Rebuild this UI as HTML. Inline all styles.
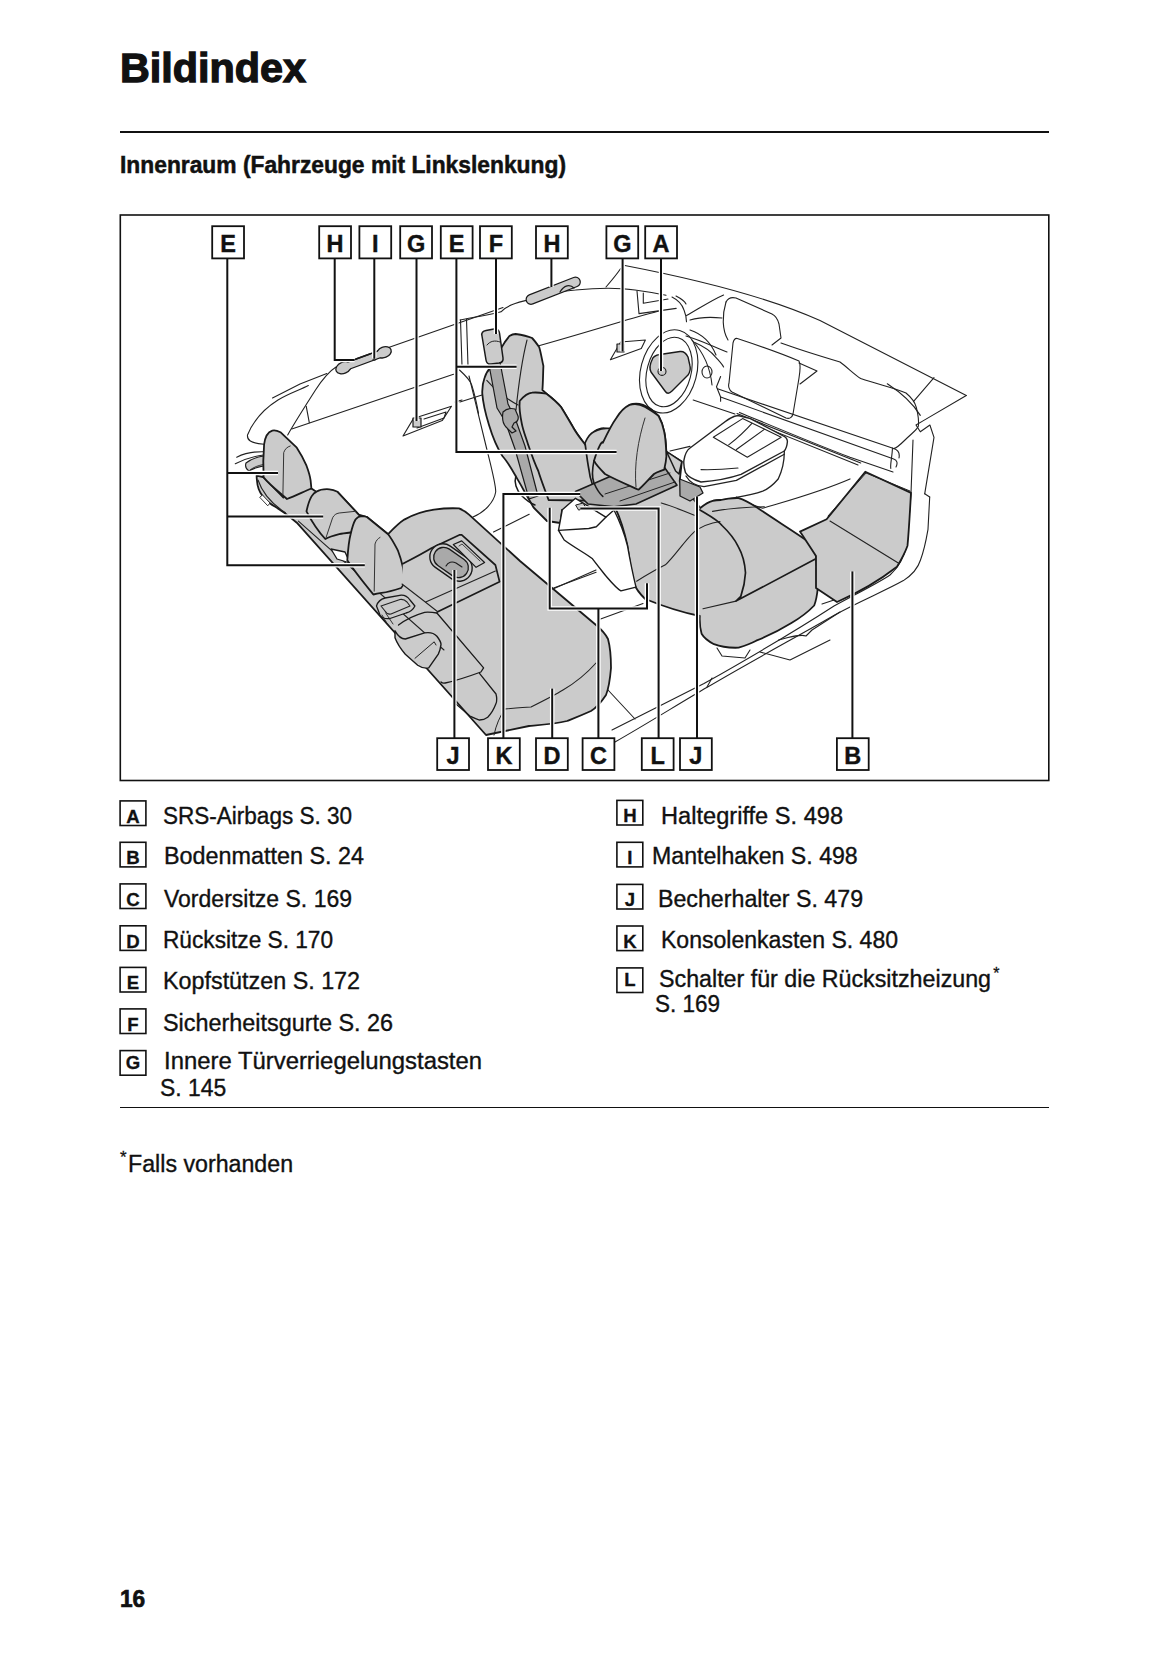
<!DOCTYPE html>
<html><head><meta charset="utf-8">
<style>
html,body{margin:0;padding:0;background:#fff;}
body{width:1165px;height:1653px;position:relative;overflow:hidden;font-family:"Liberation Sans",sans-serif;color:#111;}
.abs{position:absolute;white-space:nowrap;}
.t{position:absolute;white-space:nowrap;line-height:1;transform-origin:0 0;}
.box{position:absolute;border:1.5px solid #111;}
.box span{position:absolute;left:0;right:0;text-align:center;font-weight:bold;line-height:1;}
svg{position:absolute;left:0;top:0;}
</style></head><body>
<div class="t" style="left:120.00px;top:47.17px;font-size:41.5px;font-weight:bold;transform:scaleX(0.9959);-webkit-text-stroke:1.30px #111;">Bildindex</div>
<div class="abs" style="left:120px;top:130.8px;width:929px;height:1.8px;background:#111;"></div>
<div class="t" style="left:120.00px;top:154.43px;font-size:23.0px;font-weight:bold;transform:scaleX(0.9915);-webkit-text-stroke:0.50px #111;">Innenraum (Fahrzeuge mit Linkslenkung)</div>
<div class="t" style="left:163.00px;top:804.73px;font-size:23.0px;transform:scaleX(0.9793);-webkit-text-stroke:0.35px #111;">SRS-Airbags S. 30</div>
<div class="t" style="left:164.00px;top:845.23px;font-size:23.0px;transform:scaleX(1.0158);-webkit-text-stroke:0.35px #111;">Bodenmatten S. 24</div>
<div class="t" style="left:164.00px;top:887.63px;font-size:23.0px;transform:scaleX(1.0004);-webkit-text-stroke:0.35px #111;">Vordersitze S. 169</div>
<div class="t" style="left:163.00px;top:928.73px;font-size:23.0px;transform:scaleX(0.9854);-webkit-text-stroke:0.35px #111;">Rücksitze S. 170</div>
<div class="t" style="left:163.00px;top:970.23px;font-size:23.0px;transform:scaleX(1.0139);-webkit-text-stroke:0.35px #111;">Kopfstützen S. 172</div>
<div class="t" style="left:163.00px;top:1012.13px;font-size:23.0px;transform:scaleX(1.0165);-webkit-text-stroke:0.35px #111;">Sicherheitsgurte S. 26</div>
<div class="t" style="left:164.00px;top:1050.13px;font-size:23.0px;transform:scaleX(1.0379);-webkit-text-stroke:0.35px #111;">Innere Türverriegelungstasten</div>
<div class="t" style="left:160.00px;top:1076.73px;font-size:23.0px;transform:scaleX(0.9950);-webkit-text-stroke:0.35px #111;">S. 145</div>
<div class="t" style="left:661.00px;top:804.73px;font-size:23.0px;transform:scaleX(1.0268);-webkit-text-stroke:0.35px #111;">Haltegriffe S. 498</div>
<div class="t" style="left:652.30px;top:845.23px;font-size:23.0px;transform:scaleX(1.0056);-webkit-text-stroke:0.35px #111;">Mantelhaken S. 498</div>
<div class="t" style="left:658.00px;top:887.63px;font-size:23.0px;transform:scaleX(1.0086);-webkit-text-stroke:0.35px #111;">Becherhalter S. 479</div>
<div class="t" style="left:661.00px;top:928.53px;font-size:23.0px;transform:scaleX(1.0020);-webkit-text-stroke:0.35px #111;">Konsolenkasten S. 480</div>
<div class="t" style="left:659.00px;top:967.73px;font-size:23.0px;transform:scaleX(1.0106);-webkit-text-stroke:0.35px #111;">Schalter für die Rücksitzheizung</div>
<div class="abs" style="left:993.3px;top:966px;font-size:16px;line-height:16px;-webkit-text-stroke:0.3px #111;">*</div>
<div class="t" style="left:655.00px;top:993.43px;font-size:23.0px;transform:scaleX(0.9785);-webkit-text-stroke:0.35px #111;">S. 169</div>
<div class="abs" style="left:120px;top:1106.8px;width:929px;height:1.6px;background:#111;"></div>
<div class="abs" style="left:120px;top:1149px;font-size:17px;line-height:17px;-webkit-text-stroke:0.3px #111;">*</div>
<div class="t" style="left:128.00px;top:1153.03px;font-size:23.0px;transform:scaleX(1.0087);-webkit-text-stroke:0.35px #111;">Falls vorhanden</div>
<div class="t" style="left:120.00px;top:1587.81px;font-size:23.5px;font-weight:bold;transform:scaleX(0.9653);-webkit-text-stroke:0.70px #111;">16</div>
<svg width="1165" height="1653" viewBox="0 0 1165 1653">
<defs><clipPath id="frame"><rect x="121" y="216" width="927" height="564"/></clipPath></defs>
<g clip-path="url(#frame)" stroke-linejoin="round" stroke-linecap="round">
<!-- ===== body thin lines ===== -->
<g fill="none" stroke="#222" stroke-width="1.1">
 <path d="M272.5,398 L300,384 L326.8,373.6"/>
 <path d="M388.6,347.5 L503,307.6"/>
 <path d="M336,367 C328,372 322,380 315.5,390 C306,405 295,422 287.7,435"/>
 <path d="M306.2,406.2 L309.3,422.7"/>
 <path d="M308.3,385.6 C300,390 290,393 278,400 C262,410 252,424 247.5,435 C247,440 250,443 264,444.3"/>
 <path d="M291.8,428.9 L453.5,374.3"/>
 <path d="M454.6,402.1 L462,400"/>
 <path d="M403,436 L413.4,418.6 L451.5,406.2 L442.2,420.6 Z"/>
 <path d="M417,428 L444,418 L446,412 L424,419"/>
 <path d="M236.7,457.2 C245,453 255,451.5 263.5,451.7"/>
 <path d="M235.3,463.7 C245,459 255,456 263.5,455"/>
 <path d="M460,320 C480,316 495,314 501,311.8 C506,306 515,303 530,299.4 C545,295 560,291 575.4,290 C595,288 615,287 635,290 C650,292 660,294 666,295.3"/>
 <path d="M606,287 C612,280 617,274 620.7,268.5"/>
 <path d="M624.8,265.5 C700,280 770,298 820,320.6 L966.3,395.5"/>
 <path d="M966.3,395.5 L923,420.9 L916,425 L920.3,431.8 L929.9,425 L934,437.3 L924.7,493.8"/>
 <path d="M538,346 C570,337 600,328 620,322 C640,316 650,313 660,311"/>
 <path d="M460.5,320 L462,366"/>
 <path d="M466.5,319 L468,366"/>
 <path d="M459.5,370 C466,376 470,380 471.6,384.6 C475,395 477,405 478.5,413.4"/>
 <path d="M469,376 C475,400 482,430 487,450 C492,470 496,485 495.7,492 C494,502 485,512 473,517"/>
 <path d="M460,402 L482,395"/>
 <path d="M637,291 L639,313.6 L676.2,308.4"/>
 <path d="M643.3,293 L643.3,303.3 L668,299"/>
 <path d="M672,297 C678,300 682,304 684,310 C686,315 686.5,318 686.5,321.8"/>
 <path d="M676,296 C680,298 684,300 686,304"/>
 <path d="M686.5,315.6 C700,308 712,300 723.6,295"/>
 <path d="M694.8,342.4 C703,346 710,350 715.4,356.8 C719,361 722,364 723.6,367"/>
 <!-- dash hood / cluster -->
 <path d="M726,302 C728,298 732,297 736,298 L772,314 C776,316 778,320 779,324 L781,338 L772,345"/>
 <path d="M726,302 C722,315 722,330 728,340"/>
 <path d="M690,320 C700,317 712,317 722,318"/>
 <path d="M686,336 C700,340 712,346 727,352"/>
 <!-- screen -->
 <path d="M737.3,338.5 C760,346 785,355 799,361 C801,365 800,372 799,378 L793,414 C792,418 789,419 786,418 L732,392 C729,390 728,386 729,383 L733,343 C734,339 735,338 737.3,338.5 Z" fill="#fff"/>
 <path d="M799,363 L817,371 L800,384"/>
 <!-- dash long band -->
 <path d="M717.5,388.8 L893.7,448.6 C898,450 900,453 899,458"/>
 <path d="M720.6,397 L893.7,458.9 C897,460 898,463 896,467"/>
 <path d="M737,413.6 L860.7,463"/>
 <path d="M739,417 L858,465"/>
 <path d="M720.6,376.5 L716.5,386.8 L720.6,397 L720.6,401.2"/>
 <path d="M781,343 C800,350 820,356 840,362 C848,368 855,375 860.7,378.5 C880,385 895,388 906,393 C912,398 915,402 916.3,407.4 C918,414 919,420 918.4,426 C917,430 912,433 905,440 C900,445 897,448 893.7,448.6"/>
 <path d="M887.3,383.8 C900,392 912,402 920.3,415.4"/>
 <path d="M913.4,401.6 L934,377.6"/>
 <path d="M739.5,412.4 C770,425 810,442 850,457.3 L893,472"/>
 <!-- right pillar / door sill -->
 <path d="M615,742 C650,722 680,703 707.6,687 C750,662 800,635 834.7,615 C860,601 885,591 903.4,580.6 C912,575 918,568 920.5,560 C925,548 927,535 928,529.3 L929.7,497"/>
 <path d="M612,730 C640,716 675,698 704,683.6 C760,652 800,628 834,606 C860,592 880,582 890,575 C898,568 904,558 907,545 L911,494"/>
 <path d="M924.7,493.8 L929.7,497"/>
 <path d="M892.5,448 C892,458 890,465 890.8,468.4"/>
 <path d="M913,440 L911,493"/>
 <path d="M608,690 L635,719"/>
 <path d="M553.7,588 L596.1,572.3"/>
 <path d="M600.6,619 L643,603.5"/>
 <path d="M493.5,532 L529.2,514.2"/>
 <path d="M818,585 L826,581 L838,590 L834,600 L822,604"/>
 <path d="M717,648 L722,656 L745,658 L750,650"/>
 <path d="M778.6,640 C790,637 800,634 806,636 L812,630 L840,612"/>
 <path d="M760,652 L790,660 L830,640"/>
 <path d="M707,687 L712,678"/>
 <!-- steering wheel -->
 <ellipse cx="668.7" cy="371.4" rx="28" ry="42.4" transform="rotate(15 668.7 371.4)"/>
 <ellipse cx="669" cy="372" rx="22" ry="35.5" transform="rotate(15 669 372)"/>
 <path d="M690,330 C705,335 712,345 716,355"/>
 <path d="M692,340 C703,352 710,365 712,385"/>
 <ellipse cx="707" cy="372" rx="5" ry="6"/>
 <path d="M693.2,400 L734.9,414"/>
 <path d="M670,451 L690,446.4"/>
 <!-- front console -->
 <path d="M683.9,460.3 C685,454 687,450 690,448 L721,424.8 C727,420 732,416 738,415.5 L750.3,418.6 L782.8,435.6 C786,437 787.5,439 787.4,441.8 C787,446 786,449 784.3,451 L741,474.3 C727,479 714,481 701,482 C694,480 688,477 685.5,472.7 C684,468 683.5,464 683.9,460.3 Z" fill="#fff" stroke-width="1.4"/>
 <path d="M686,476 C690,483 696,486 704,486.6 L736.4,480.4 L784.3,454.2" stroke-width="1.3"/>
 <path d="M784.3,451 C784.5,462 781,473 778.2,479 C773,485 768,489 762.7,491.2 C755,494 745,496 736.4,497.4 C728,499 720,500 713.3,500.5" stroke-width="1.3"/>
 <path d="M713.3,437.2 L742.6,418.6 L781.2,437.2 L747.3,457.3 Z"/>
 <path d="M728.7,444.9 C740,436 746,430 751.9,423.3"/>
 <path d="M736.4,449.5 L764.3,429.4"/>
 <path d="M701,469.6 C715,470 728,469 738,468"/>
 <path d="M736.4,497 C745,502 755,506 762.7,508.2 C790,500 820,492 850,478.9"/>
 <!-- door lock G2 -->
 <path d="M610.4,359.7 L620.7,342 L645.4,340 L641.3,348.4 Z"/>
</g>
<!-- ===== front seats complex ===== -->
<g stroke="#1a1a1a" stroke-width="1.8" fill="#cbcbcb">
 <path d="M509.4,336 C511,335 513,334 515.6,334 C522,335 527,336 532.1,338 C535,341 537,344 539.3,347.4 C541,353 542,360 543.4,366 C543,375 543,383 542.4,390 L546.5,393.7 C552,398 557,402 561,407 C566,415 570,422 573.3,427.7 C578,436 582,440 587,447 C590,438 592,433 594,431.7 C598,429 602,428 605,428.3 L614,429.4 C620,420 625,410 629.6,404.9 C634,403 638,403 643,404.9 C650,408 655,412 658.6,416 C662,422 663,426 664.2,431.7 C666,440 666,448 666.4,452 L681.8,461.6 L679.7,481.2 L700.3,508 C705,504 708,502 712.7,500.8 C716,500 718,500 721,500 C728,498 733,498 738.6,498.1 C745,500 750,503 756.2,507 C775,520 795,532 809,542.2 C813,547 815,551 816,556.2 C817,566 818,577 817.8,588 C817,596 816,601 814.2,605.5 C808,612 800,618 791.4,623 C780,630 768,636 756.2,640.7 C750,644 744,646 738.6,647.7 C730,648 721,647 714,644.2 C708,641 704,638 701.6,633.7 C700,628 699.5,622 699.8,616 C680,612 660,605 645.2,599 C640,594 636,589 634,583.4 C631,570 629,558 627.4,545.5 C624,530 619,515 614,505.3 L562,510 L560.4,523 L547,521 L533.6,507.5 L524.7,492 C521,485 518,480 515.8,476.3 C510,466 506,460 502.4,456 C496,446 492,435 489,425 C485,412 483,403 482.3,393.7 C482,387 483,382 484.5,378 C486,373 488,370 491.2,367 C495,358 500,349 504.6,342.4 Z"/>
</g>
<g fill="none" stroke="#222" stroke-width="1.1">
 <path d="M486.8,380.3 C495,390 508,400 518,404.9"/>
 <path d="M527,340 C522,360 518,390 516,410"/>
 <path d="M540.3,421.5 C552,424 565,430 575.4,436"/>
 <path d="M538.3,456.6 C548,462 556,468 563,473"/>
 <path d="M703,608.8 L736,601.1"/>
 <path d="M712.5,511.4 C730,508 750,507 764.4,506.7"/>
 <path d="M636.6,581.2 C645,576 655,570 665.4,564.8 C675,556 685,540 694.3,531.8 C702,526 710,523 720,521.5"/>
 <path d="M661.3,503 C672,506 684,511 694.3,515.3"/>
</g>
<path d="M698.3,509 C710,516 718,520 722,525.5 C730,533 735,540 738.4,546.8 C743,555 745,565 745.5,572.8 C745,582 743,590 740.8,596.4 L736,601.1 L816.3,558.6" fill="none" stroke="#1a1a1a" stroke-width="1.7"/>
<!-- S2 seatback outline -->
<path d="M519.7,401 C524,396 528,393 532.1,392.7 C538,392 542,393 546.5,393.7 C552,398 557,402 561,407 C566,415 570,422 573.3,427.7 C578,436 582,440 587.2,447.3 C590,458 592,468 594,478.5 C598,488 601,495 605,500.8 L548.6,500 C545,490 541,480 538.3,471 C534,462 531,453 528,444.2 C525,435 523,430 521.8,423.6 C520,415 519,408 519.7,401 Z" fill="#cbcbcb" stroke="#1a1a1a" stroke-width="1.8"/>
<path d="M515.8,476.3 C514,482 516,490 522,496 C526,500 530,503 535,505" fill="none" stroke="#1a1a1a" stroke-width="1.5"/>
<!-- seat belt -->
<path d="M484,338 L495,336 L508,404 L515,418 L525,446 L538,496 L529,499 L515,449 L505,421 L497,408 Z" fill="#a9a9a9" stroke="#1a1a1a" stroke-width="1.2"/>
<path d="M482,336 C481,333 483,331 486,330.5 L494,329 C497,328.5 499,330 499.5,333 L503,358 C503.5,361 502,362.5 499,363 L491,364 C488,364.5 486.5,363 486,360 Z" fill="#cbcbcb" stroke="#1a1a1a" stroke-width="1.5"/>
<path d="M487,345 C490,341 495,340 500,342" fill="none" stroke="#222" stroke-width="1"/>
<path d="M503,412 C506,409 511,408 515,409 L518,416 C519,420 517,422 514,423 L512,427 L516,431 L512,433 L506,427 C503,424 502,418 503,412 Z" fill="#a9a9a9" stroke="#1a1a1a" stroke-width="1.2"/>
<!-- S3 headrest/back -->
<path d="M585,442.8 C588,436 591,433 594,431.7 C600,428.5 607,428 614,428.3 L640,440 L630,480 L600,500 C594,490 590,480 589,470 C587,460 586,450 585,442.8 Z" fill="#cbcbcb" stroke="#1a1a1a" stroke-width="1.7"/>
<!-- console lid -->
<path d="M575.5,491.6 L645.8,461.1 C650,460 654,460 657.1,461.6 L663.3,465.8 L677,485.2 L636,504 L614,506.7 L588,504 Z" fill="#a9a9a9" stroke="#1a1a1a" stroke-width="1.6"/>
<path d="M605,494 L670,473" fill="none" stroke="#222" stroke-width="1"/>
<path d="M620,501 L675,482" fill="none" stroke="#222" stroke-width="1"/>
<path d="M666.4,451.3 L681.8,461.6 L679,474 L675.6,471 Z" fill="#cbcbcb" stroke="#1a1a1a" stroke-width="1.5"/>
<path d="M679.7,479 L700,487 L703,493 L690,501 L680,496 Z" fill="#a9a9a9" stroke="#1a1a1a" stroke-width="1.3"/>
<path d="M594,460.7 C598,448 602,440 602.8,442.8 C608,432 612,424 616.2,418.3 C620,412 625,407 629.6,404.9 C634,403.5 640,404 645.2,407.1 C650,410 655,413 658.6,416 C662,422 663,426 664.2,431.7 C666,440 666,448 666.4,456.2 C666,462 665,466 664.2,469.6 C661,471 657,472 654,474 C648,480 643,486 638.5,489.7 C628,485 616,480 605,474 C600,469 596,465 594,460.7 Z" fill="#cbcbcb" stroke="#1a1a1a" stroke-width="1.8"/>
<path d="M594,460.7 C592,470 592,478 594,483 C597,490 600,494 602.8,496.4" fill="none" stroke="#1a1a1a" stroke-width="1.6"/>
<path d="M645,418 C638,440 634,465 636,487" fill="none" stroke="#333" stroke-width="1"/>
<!-- rear console (white) -->
<path d="M558.5,530.4 L564.2,540 C575,548 585,553 592.5,558.8 C598,566 602,571 605.8,575.8 C612,583 616,588 620.9,590.9 L636,587.1 C633,575 630,560 627.4,545.5 C624,532 619,520 614,510 L605.8,517.2 Z" fill="#fff" stroke="#1a1a1a" stroke-width="1.4"/>
<path d="M562.3,509.7 L575.5,498.3 L605.8,517.2 L596.3,526.7 L588.8,528.5 L558.5,530.4 Z" fill="#fff" stroke="#1a1a1a" stroke-width="1.4"/>
<path d="M576,505 L583,503 L586,508 L579,510 Z" fill="#cbcbcb" stroke="#1a1a1a" stroke-width="1"/>
<!-- floor mat B -->
<path d="M800,531.6 L826.6,519.3 L865.3,471.7 L911,492.9 C910,510 909,530 907.5,545.7 C905,553 901,560 897,566.8 C880,580 860,592 837,602 L816,588 L816,556 Z" fill="#cbcbcb" stroke="#1a1a1a" stroke-width="1.8"/>
<path d="M830,521 L898.7,563.3" fill="none" stroke="#222" stroke-width="1.1"/>
<path d="M828,516 L866,473 L910,491" fill="none" stroke="#222" stroke-width="1"/>
<!-- ===== rear seat complex ===== -->
<path d="M256.6,475.7 L263,477 L311.4,488.5 L316.3,491.8 L337.5,491.8 L358.7,514.6 L366.9,517 L388.1,534.2 C394,528 399,523 404.3,519.6 C414,514 424,511 434,509.6 C442,508.5 452,508 459,508.4 C463,510 466,512 469,514.6 L520,561 L596,625 C602,630 606,635 608,639 C611,650 611,660 611,668 C610,680 608,690 606,695 C600,704 596,708 591,711 C580,716 572,719 567,721 C555,724 540,725 529,726 L486,735 L454,699 L296.8,522.7 C291,518 286,514 282,511.3 C276,507 270,504 265.8,500 C261,495 258.5,490 257.6,485.2 C257,481 256.5,478 256.6,475.7 Z" fill="#cbcbcb" stroke="#1a1a1a" stroke-width="1.8"/>
<g fill="none" stroke="#222" stroke-width="1.1">
 <path d="M298.4,521.1 L444,650"/>
 <path d="M505,709 C515,708 525,707 531,707 C545,700 555,695 563,690 C575,683 588,672 596,663"/>
 <path d="M553,589 L596,570"/>
</g>
<!-- left end of band -->
<path d="M262.8,476.4 L283.4,497.7" fill="none" stroke="#1a1a1a" stroke-width="1.6"/>
<path d="M258,480 C262,492 272,504 285.4,512.8" fill="none" stroke="#222" stroke-width="1.1"/>
<path d="M260,497 L262.5,495 L270,503 L268,505.5 Z" fill="#fff" stroke="#222" stroke-width="0.9"/>
<path d="M246,463 C251,459 257,457 263.5,456 L263.5,466 C258,467 252,469 249,471 C246,469 245,466 246,463 Z" fill="#cbcbcb" stroke="#1a1a1a" stroke-width="1.1"/>
<path d="M250,470 C254,467 258,465.5 263.5,464.5" fill="none" stroke="#222" stroke-width="0.9"/>
<!-- headrests -->
<g stroke="#1a1a1a" stroke-width="1.8" fill="#cbcbcb">
 <path d="M264.1,444.5 C265,437 268,432 272.3,430.6 C275,430 278,431 280.4,432.2 L296.8,447.7 C301,454 304,460 306.5,465.7 C308.5,471 310,476 310.6,480.3 L311.4,488.5 C303,492 295,496 287,499 C279,492 270,485 263.6,477.3 C263,466 263.5,452 264.1,444.5 Z"/>
 <path d="M306.5,511.3 C308,504 309.5,500 311.4,496.6 C313,494 314.5,492.5 316.3,491.8 C320,489.5 325,489 329.4,489.3 C332,489.5 335,490.5 337.5,491.8 L358.7,514.6 L366,525 L350.6,532.5 C346,533 342,533.5 339.2,534.2 C334,535.5 329,537 325.3,539 C318,531 311,520 306.5,511.3 Z"/>
 <path d="M331,549 L345,552 L350,563 L337,559 Z" fill="#fff" stroke-width="1.3"/>
 <path d="M347.3,560.2 C348,550 349,540 350.6,534.2 C352,528 353.5,523 355.5,519.5 C357.5,517 360,516.3 362,516.2 C364,516.2 365.5,516.5 366.9,517 L388.1,534.2 C392,539 395,545 397.9,550.5 C400,556 401.5,561 402.8,566.8 C403.8,572 404.2,577 404.4,581.4 C404,584 403,586 401.1,588 C395,590 388,592 381.6,592.9 C378,593.5 375.5,594 373.4,594.5 C364,583 355,572 347.3,560.2 Z"/>
</g>
<g fill="none" stroke="#333" stroke-width="1">
 <path d="M282.9,495 L283.7,452.6 C285,449 287,447 290.2,446"/>
 <path d="M326.1,537.4 L332.6,517.8 C334,515 336,513.5 339.2,513 L355.5,511.3"/>
 <path d="M374.2,591.2 L375,544 C376,540.5 378,538.5 380,537.4"/>
</g>
<!-- rear armrest -->
<path d="M402.8,563.7 C410,560 420,555 431.7,548 L459.3,534.9 L461.7,534.9 L495.4,565 L499.6,581.7 L437.7,611.8 C425,602 412,592 402,584 Z" fill="#cbcbcb" stroke="none"/>
<path d="M402.8,563.7 C410,560 420,555 431.7,548 L459.3,534.9 L461.7,534.9 L495.4,565 L499.6,581.7 L437.7,611.8" fill="none" stroke="#1a1a1a" stroke-width="1.7"/>
<path d="M425.7,602 L495.4,571" fill="none" stroke="#222" stroke-width="1.1"/>
<path d="M402,584 C415,594 428,604 437.7,611.8" fill="none" stroke="#222" stroke-width="1.1"/>
<rect x="428" y="549.5" width="46" height="26" rx="13" transform="rotate(35 451 562.5)" fill="#cbcbcb" stroke="#1a1a1a" stroke-width="1.4"/>
<rect x="432" y="552.5" width="38" height="20" rx="10" transform="rotate(35 451 562.5)" fill="#a9a9a9" stroke="#1a1a1a" stroke-width="1.3"/>
<path d="M446,566 C448,562 452,561 456,563 L462,567" fill="none" stroke="#1a1a1a" stroke-width="1.1"/>
<path d="M453.3,544.5 L461.7,540.9 L484.6,562.5 L476.1,567.3 Z" fill="#cbcbcb" stroke="#1a1a1a" stroke-width="1.2"/>
<path d="M459,546 L462,544 L480,561" fill="none" stroke="#333" stroke-width="0.9"/>
<!-- belt slot -->
<path d="M376.5,606 C378,601 381,599 385,598 L401.2,595.1 C405,595 408,597 410,600 L414.9,606 C413,610 410,612 406,613 L390,618.5 C386,619 382,618 380,615 Z" fill="#cbcbcb" stroke="#1a1a1a" stroke-width="1.3"/>
<path d="M381,606 L400,599.5 C403,599 405,600 407,602 L410,606 L391,614 C388,614.5 386,613 385,611 Z" fill="none" stroke="#222" stroke-width="1.1"/>
<path d="M382,615 L388,625 M386,613.5 L393,624" fill="none" stroke="#222" stroke-width="0.9"/>
<!-- lower pieces -->
<g fill="none" stroke="#1a1a1a" stroke-width="1.3">
 <path d="M398.5,625 C405,620 415,615 424.6,612.3 C430,612 434,612.5 436.9,613"/>
 <path d="M436.9,613 L483.6,667.9 L480.9,672 C470,676 455,681 445.2,683 C443,683.5 442,683 441,682"/>
 <path d="M479.5,673.4 L496,694 C497,698 497,701 496,703.6 C494,709 491,714 487.7,717.3 C485,719.5 482,720 479.5,720 C476,719 472,717 469.9,716 L456,704"/>
</g>
<path d="M395,630.8 C398,636 401,639 405.3,639 L424.6,632.9 C430,632 434,633 436.9,636.3 C439,639 441,642 441,644.6 C440.5,648 440,651 438.3,654.2 L428.7,667.9 C425,668.5 421,667.5 417.7,665.2 L405.3,654.2 C400,648 397,643 395,637.7 Z" fill="#cbcbcb" stroke="#1a1a1a" stroke-width="1.4"/>
<path d="M415,658.3 L434.2,641.8 L436,645" fill="none" stroke="#222" stroke-width="1"/>
<path d="M505,709 C500,716 496,725 494,735" fill="none" stroke="#222" stroke-width="1"/>
<!-- grab handles, locks, airbag -->
<path d="M346,366.5 L384,352.5" stroke="#1a1a1a" stroke-width="8.5" stroke-linecap="round"/>
<ellipse cx="343.5" cy="367.8" rx="8" ry="5.6" transform="rotate(-24 343.5 367.8)" fill="#cbcbcb" stroke="#1a1a1a" stroke-width="1.3"/>
<ellipse cx="384" cy="352.3" rx="7.5" ry="5.3" transform="rotate(-22 384 352.3)" fill="#cbcbcb" stroke="#1a1a1a" stroke-width="1.3"/>
<path d="M348,366 L383,353" stroke="#cbcbcb" stroke-width="6" stroke-linecap="round"/>
<path d="M356,359 L370,354" stroke="#1a1a1a" stroke-width="1.6"/>
<circle cx="374.5" cy="358.5" r="1.8" fill="none" stroke="#1a1a1a" stroke-width="1"/>
<path d="M531,299.4 L575.4,282" stroke="#1a1a1a" stroke-width="11" stroke-linecap="round"/>
<path d="M531,299.4 L575.4,282" stroke="#cbcbcb" stroke-width="8.5" stroke-linecap="round"/>
<path d="M560,292 C564,285 570,284 574,288" fill="none" stroke="#1a1a1a" stroke-width="1.2"/>
<rect x="413" y="418" width="8" height="9" fill="#cbcbcb" stroke="#1a1a1a" stroke-width="1.2"/>
<rect x="617" y="344" width="7" height="8" fill="#cbcbcb" stroke="#1a1a1a" stroke-width="1.2"/>
<path d="M652,360 C653,356 656,355 660,354.5 L680,351.5 C684,351 686,353 688,357 L690,366 C691,370 690,372 688,375 L672,391 C669,394 667,394 665,391 L651,372 C649,368 650,364 652,360 Z" fill="#cbcbcb" stroke="#1a1a1a" stroke-width="1.4"/>
<circle cx="662" cy="371.4" r="4" fill="#cbcbcb" stroke="#1a1a1a" stroke-width="1.1"/>
</g>
<!-- ===== leaders ===== -->
<g fill="none" stroke-linecap="butt" stroke-linejoin="miter">
<g stroke="#fff" stroke-width="4.5">
 <path d="M227.3,258.5 V565.3 H364.8 M227.3,473 H278 M227.3,516.6 H323.2"/>
 <path d="M334.7,258.5 V359.9 H354.6"/>
 <path d="M374.3,258.5 V358.8"/>
 <path d="M416.5,258.5 V421"/>
 <path d="M456.4,258.5 V452 H616.6 M456.4,366.8 H516.6"/>
 <path d="M496,258.5 V334"/>
 <path d="M551.4,258.5 V287"/>
 <path d="M622.6,258.5 V351.5"/>
 <path d="M661,258.5 V371"/>
 <path d="M454.4,570 V738.2"/>
 <path d="M503.4,738.2 V494 H580.3"/>
 <path d="M552.2,688.6 V738.2"/>
 <path d="M598.4,738.2 V608.6 M549.7,507.8 V608.6 H647 V583.3"/>
 <path d="M580.3,508.5 H658.6 V738.2"/>
 <path d="M697,496.4 V738.2"/>
 <path d="M852.4,571.4 V738.2"/>
</g>
<g stroke="#111" stroke-width="2">
 <path d="M227.3,258.5 V565.3 H364.8 M227.3,473 H278 M227.3,516.6 H323.2"/>
 <path d="M334.7,258.5 V359.9 H354.6"/>
 <path d="M374.3,258.5 V358.8"/>
 <path d="M416.5,258.5 V421"/>
 <path d="M456.4,258.5 V452 H616.6 M456.4,366.8 H516.6"/>
 <path d="M496,258.5 V334"/>
 <path d="M551.4,258.5 V287"/>
 <path d="M622.6,258.5 V351.5"/>
 <path d="M661,258.5 V371"/>
 <path d="M454.4,570 V738.2"/>
 <path d="M503.4,738.2 V494 H580.3"/>
 <path d="M552.2,688.6 V738.2"/>
 <path d="M598.4,738.2 V608.6 M549.7,507.8 V608.6 H647 V583.3"/>
 <path d="M580.3,508.5 H658.6 V738.2"/>
 <path d="M697,496.4 V738.2"/>
 <path d="M852.4,571.4 V738.2"/>
</g>
</g>
<!-- ===== label boxes ===== -->
<g fill="#fff" stroke="#111" stroke-width="1.8">
 <rect x="212.2" y="226.2" width="31.8" height="32.2"/>
 <rect x="319.2" y="226.2" width="31.8" height="32.2"/>
 <rect x="359.4" y="226.2" width="31.8" height="32.2"/>
 <rect x="400.2" y="226.2" width="31.8" height="32.2"/>
 <rect x="440.8" y="226.2" width="31.8" height="32.2"/>
 <rect x="480" y="226.2" width="31.8" height="32.2"/>
 <rect x="536" y="226.2" width="31.8" height="32.2"/>
 <rect x="606.4" y="226.2" width="31.8" height="32.2"/>
 <rect x="645.2" y="226.2" width="31.8" height="32.2"/>
 <rect x="437.2" y="738.2" width="31.8" height="31.8"/>
 <rect x="488" y="738.2" width="31.8" height="31.8"/>
 <rect x="536" y="738.2" width="31.8" height="31.8"/>
 <rect x="582.6" y="738.2" width="31.8" height="31.8"/>
 <rect x="641.8" y="738.2" width="31.8" height="31.8"/>
 <rect x="680" y="738.2" width="31.8" height="31.8"/>
 <rect x="836.9" y="738.2" width="31.8" height="31.8"/>
</g>
<g font-family="Liberation Sans" font-weight="bold" font-size="23.5" fill="#111" text-anchor="middle" stroke="#111" stroke-width="0.4">
 <text x="228.1" y="251.6">E</text>
 <text x="335.1" y="251.6">H</text>
 <text x="375.3" y="251.6">I</text>
 <text x="416.1" y="251.6">G</text>
 <text x="456.7" y="251.6">E</text>
 <text x="495.9" y="251.6">F</text>
 <text x="551.9" y="251.6">H</text>
 <text x="622.3" y="251.6">G</text>
 <text x="661.1" y="251.6">A</text>
 <text x="453.1" y="763.5">J</text>
 <text x="503.9" y="763.5">K</text>
 <text x="551.9" y="763.5">D</text>
 <text x="598.5" y="763.5">C</text>
 <text x="657.7" y="763.5">L</text>
 <text x="695.9" y="763.5">J</text>
 <text x="852.8" y="763.5">B</text>
</g>
<rect x="120.3" y="215" width="928.5" height="565.5" fill="none" stroke="#111" stroke-width="1.6"/>
<g font-family="Liberation Sans" font-weight="bold" font-size="18.6" fill="#111" text-anchor="middle" stroke="#111" stroke-width="0.3"><rect x="120.10" y="800.90" width="25.80" height="24.60" fill="none" stroke="#111" stroke-width="1.60"/><text x="133.00" y="822.90">A</text><rect x="120.10" y="842.30" width="25.80" height="24.60" fill="none" stroke="#111" stroke-width="1.60"/><text x="133.00" y="864.30">B</text><rect x="120.10" y="883.90" width="25.80" height="24.60" fill="none" stroke="#111" stroke-width="1.60"/><text x="133.00" y="905.90">C</text><rect x="120.10" y="925.80" width="25.80" height="24.60" fill="none" stroke="#111" stroke-width="1.60"/><text x="133.00" y="947.80">D</text><rect x="120.10" y="967.40" width="25.80" height="24.60" fill="none" stroke="#111" stroke-width="1.60"/><text x="133.00" y="989.40">E</text><rect x="120.10" y="1008.90" width="25.80" height="24.60" fill="none" stroke="#111" stroke-width="1.60"/><text x="133.00" y="1030.90">F</text><rect x="120.10" y="1050.60" width="25.80" height="24.60" fill="none" stroke="#111" stroke-width="1.60"/><text x="133.00" y="1068.60">G</text><rect x="616.90" y="800.40" width="25.90" height="24.60" fill="none" stroke="#111" stroke-width="1.60"/><text x="629.85" y="822.40">H</text><rect x="616.90" y="842.30" width="25.90" height="24.60" fill="none" stroke="#111" stroke-width="1.60"/><text x="629.85" y="864.30">I</text><rect x="616.90" y="884.40" width="25.90" height="24.60" fill="none" stroke="#111" stroke-width="1.60"/><text x="629.85" y="906.40">J</text><rect x="616.90" y="926.00" width="25.90" height="24.60" fill="none" stroke="#111" stroke-width="1.60"/><text x="629.85" y="948.00">K</text><rect x="616.90" y="967.90" width="25.90" height="24.60" fill="none" stroke="#111" stroke-width="1.60"/><text x="629.85" y="985.90">L</text></g>
</svg>

</body></html>
